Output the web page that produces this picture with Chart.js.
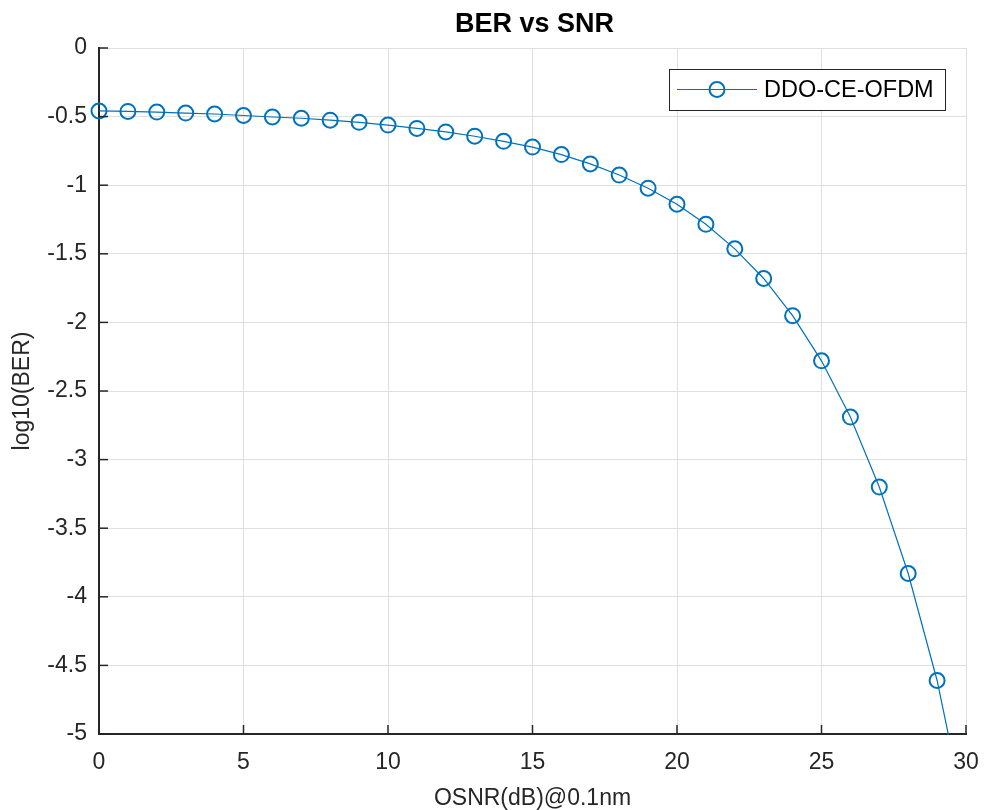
<!DOCTYPE html>
<html>
<head>
<meta charset="utf-8">
<script src="https://cdn.jsdelivr.net/npm/chart.js@4.4.0/dist/chart.umd.min.js"></script>
<style>
  html, body { margin: 0; padding: 0; background: #fff; }
  #wrap { width: 984px; height: 810px; }
</style>
</head>
<body>
<div id="wrap"><canvas id="ber-chart" width="984" height="810"></canvas></div>
<script>
// OSNR points and log10(BER)
var osnr = [0, 1, 2, 3, 4, 5, 6, 7, 8, 9, 10, 11, 12, 13, 14, 15, 16, 17, 18, 19, 20, 21, 22, 23, 24, 25, 26, 27, 28, 29, 30];
var logBer = [-0.459, -0.462, -0.467, -0.474, -0.481, -0.492, -0.503, -0.512, -0.526, -0.542, -0.562, -0.586, -0.612, -0.643, -0.68, -0.722, -0.777, -0.845, -0.926, -1.022, -1.139, -1.285, -1.464, -1.68, -1.951, -2.28, -2.69, -3.2, -3.83, -4.61, -5.62];
var xTicks = [0, 5, 10, 15, 20, 25, 30];
var yTicks = [0, -0.5, -1, -1.5, -2, -2.5, -3, -3.5, -4, -4.5, -5];
var seriesName = 'DDO-CE-OFDM';

var blue = '#0072BD';
var axisCol = '#262626';
var fontFam = '"Liberation Sans", Arial, Helvetica, sans-serif';

var points = osnr.map(function (x, i) { return { x: x, y: logBer[i] }; });

// title over the axes, inward ticks and legend box
var extras = {
  id: 'extras',
  afterDraw: function (chart) {
    var ctx = chart.ctx;
    var area = chart.chartArea;
    var xs = chart.scales.x, ys = chart.scales.y;
    ctx.save();
    ctx.strokeStyle = axisCol;
    ctx.lineWidth = 1.5;
    xTicks.forEach(function (t) {
      var px = xs.getPixelForValue(t);
      ctx.beginPath();
      ctx.moveTo(px, area.bottom);
      ctx.lineTo(px, area.bottom - 9);
      ctx.stroke();
    });
    yTicks.forEach(function (t) {
      var py = ys.getPixelForValue(t);
      ctx.beginPath();
      ctx.moveTo(area.left, py);
      ctx.lineTo(area.left + 9, py);
      ctx.stroke();
    });

    // title
    ctx.fillStyle = '#000';
    ctx.font = 'bold 27px ' + fontFam;
    ctx.textAlign = 'center';
    ctx.textBaseline = 'middle';
    ctx.fillText('BER vs SNR', (area.left + area.right) / 2 + 2, 25);

    // legend
    var bx = 669, by = 69, bw = 276, bh = 41;
    ctx.fillStyle = '#fff';
    ctx.fillRect(bx, by, bw, bh);
    ctx.strokeStyle = axisCol;
    ctx.lineWidth = 1;
    ctx.strokeRect(bx + 0.5, by + 0.5, bw, bh);
    var ly = by + bh / 2;
    ctx.strokeStyle = blue;
    ctx.lineWidth = 1.2;
    ctx.beginPath();
    ctx.moveTo(bx + 8, ly);
    ctx.lineTo(bx + 88, ly);
    ctx.stroke();
    ctx.lineWidth = 2;
    ctx.beginPath();
    ctx.arc(bx + 48, ly, 7.5, 0, Math.PI * 2);
    ctx.stroke();
    ctx.fillStyle = '#000';
    ctx.font = '23.5px ' + fontFam;
    ctx.textAlign = 'left';
    ctx.fillText(seriesName, bx + 95, ly + 1);
    ctx.restore();
  }
};

new Chart(document.getElementById('ber-chart'), {
  type: 'line',
  data: {
    datasets: [{
      label: seriesName,
      data: points,
      borderColor: blue,
      borderWidth: 1.2,
      pointStyle: 'circle',
      pointRadius: 7.5,
      pointBorderWidth: 2,
      pointBorderColor: blue,
      pointBackgroundColor: 'rgba(0,0,0,0)',
      fill: false,
      tension: 0,
      clip: { left: 15, top: 1, right: 1, bottom: 1 }
    }]
  },
  options: {
    responsive: false,
    animation: false,
    layout: { padding: { top: 48, right: 18, left: 0, bottom: 0 } },
    plugins: {
      legend: { display: false },
      title: { display: false },
      tooltip: { enabled: false }
    },
    scales: {
      x: {
        type: 'linear',
        min: 0,
        max: 30,
        afterBuildTicks: function (s) { s.ticks = xTicks.map(function (v) { return { value: v }; }); },
        afterFit: function (s) { s.height = 76; s.paddingLeft = 0; s.paddingRight = 0; },
        grid: { color: '#dfdfdf', lineWidth: 1, drawTicks: false },
        border: { color: axisCol, width: 2 },
        ticks: {
          color: axisCol,
          padding: 15,
          maxRotation: 0,
          font: { family: fontFam, size: 23 },
          callback: function (v) { return String(v); }
        },
        title: {
          display: true,
          text: 'OSNR(dB)@0.1nm',
          color: axisCol,
          font: { family: fontFam, size: 23 },
          padding: { top: 0, bottom: -2 }
        }
      },
      y: {
        type: 'linear',
        min: -5,
        max: 0,
        afterBuildTicks: function (s) { s.ticks = yTicks.map(function (v) { return { value: v }; }); },
        afterFit: function (s) { s.width = 99; s.paddingTop = 0; s.paddingBottom = 0; },
        grid: { color: '#dfdfdf', lineWidth: 1, drawTicks: false },
        border: { color: axisCol, width: 2 },
        ticks: {
          color: axisCol,
          padding: 12,
          font: { family: fontFam, size: 23 },
          callback: function (v) { return String(v); }
        },
        title: {
          display: true,
          text: 'log10(BER)',
          color: axisCol,
          font: { family: fontFam, size: 23 },
          padding: { top: 9, bottom: 0 }
        }
      }
    }
  },
  plugins: [extras]
});
</script>
</body>
</html>
